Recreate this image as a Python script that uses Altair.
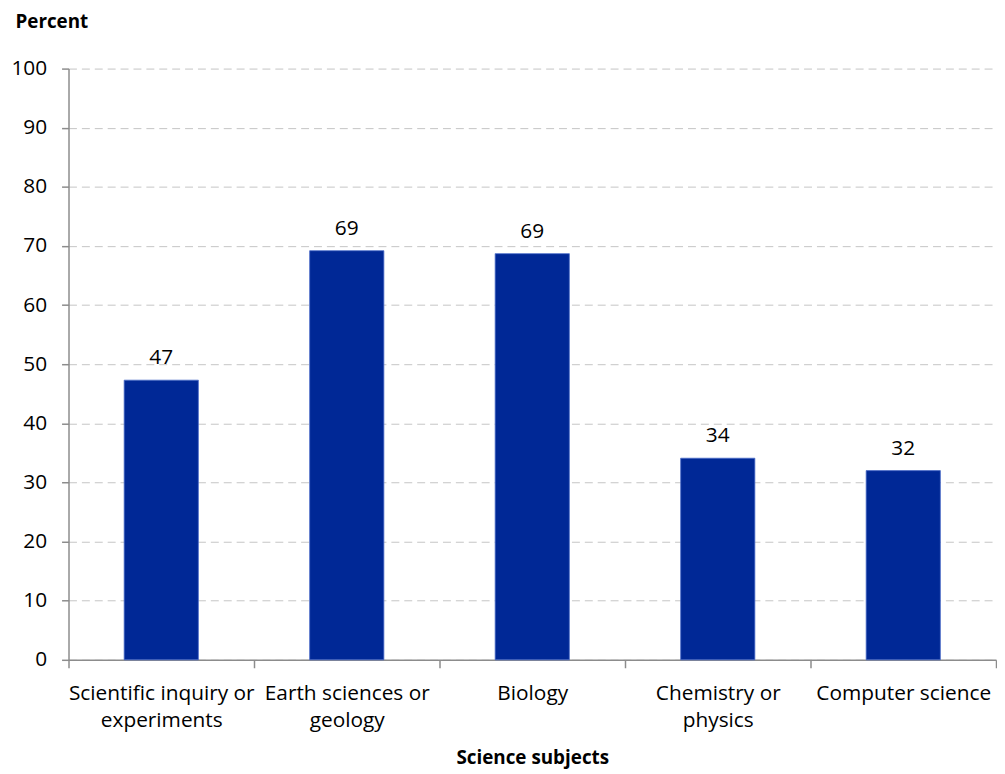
import json
import altair as alt
import pandas as pd

# ---- data ----
subjects = [
    "Scientific inquiry or experiments",
    "Earth sciences or geology",
    "Biology",
    "Chemistry or physics",
    "Computer science",
]
percents = [47.3, 69.2, 68.7, 34.1, 32.0]
value_labels = ["47", "69", "69", "34", "32"]
label_lines = [
    ["Scientific inquiry or", "experiments"],
    ["Earth sciences or", "geology"],
    ["Biology"],
    ["Chemistry or", "physics"],
    ["Computer science"],
]
y_ticks = [0, 10, 20, 30, 40, 50, 60, 70, 80, 90, 100]

df = pd.DataFrame({"subject": subjects, "percent": percents, "label": value_labels})

FONT = "Open Sans"
AXIS_GRAY = "#8C8C8C"

label_expr = " : ".join(
    f"datum.value == {json.dumps(s)} ? {json.dumps(l)}" for s, l in zip(subjects, label_lines)
) + " : datum.label"

x = alt.X(
    "subject:N",
    sort=None,
    scale=alt.Scale(paddingInner=0, paddingOuter=0),
    axis=alt.Axis(
        title="Science subjects",
        labelAngle=0,
        labelExpr=label_expr,
        labelLimit=400,
        tickBand="extent",
        ticks=True,
        tickSize=8,
        tickColor=AXIS_GRAY,
        tickWidth=1.5,
        labelPadding=15,
        labelFontSize=21,
        labelFont=FONT,
        labelColor="#000000",
        labelLineHeight=27,
        domainColor=AXIS_GRAY,
        domainWidth=1.5,
        grid=False,
        titleFont=FONT,
        titleFontSize=19,
        titleFontWeight="bold",
        titleColor="#000000",
        titleY=105,
        titleBaseline="alphabetic",
    ),
)

y = alt.Y(
    "percent:Q",
    scale=alt.Scale(domain=[0, 100]),
    axis=alt.Axis(
        values=y_ticks,
        title="Percent",
        titleAngle=0,
        titleAlign="left",
        titleBaseline="alphabetic",
        titleX=-54,
        titleY=-41,
        titleFont=FONT,
        titleFontSize=19,
        titleFontWeight="bold",
        titleColor="#000000",
        labelFont=FONT,
        labelFontSize=21,
        labelColor="#000000",
        labelPadding=15,
        tickSize=7,
        tickColor=AXIS_GRAY,
        tickWidth=1.5,
        domainColor=AXIS_GRAY,
        domainWidth=1.5,
        grid=True,
        gridDash=[8, 5],
        gridColor="#C4C4C4",
        gridWidth=1,
    ),
)

base = alt.Chart(df).encode(x=x, y=y)

bars = base.mark_bar(
    color="#002896", stroke="#4A6BC9", strokeWidth=0.8, width=alt.RelativeBandSize(0.4)
)
texts = base.mark_text(
    baseline="alphabetic", dy=-16, fontSize=21, font=FONT, color="#000000"
).encode(text="label:N")

chart = (
    alt.layer(bars, texts)
    .properties(
        width=935,
        height=596,
        padding={"left": 2, "top": 2, "right": 0, "bottom": 0},
    )
    .configure_view(stroke=None)
)

chart.save("out.html", embed_options={"renderer": "svg", "actions": False})
